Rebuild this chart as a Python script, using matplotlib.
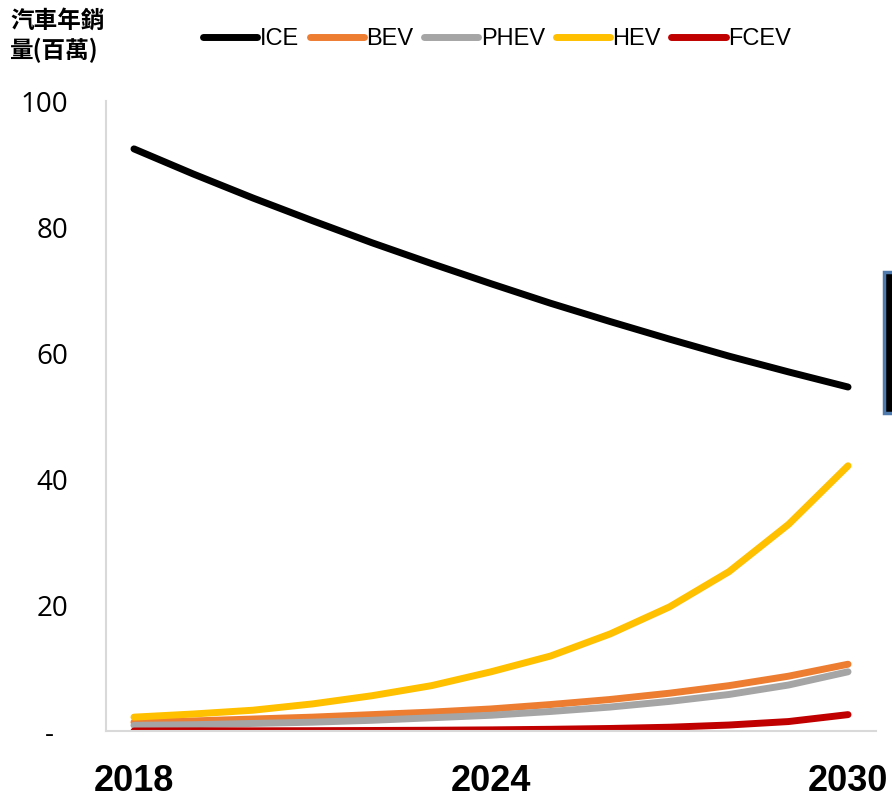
import matplotlib
matplotlib.use("Agg")
import matplotlib.pyplot as plt
from matplotlib.patches import Rectangle

years = list(range(2018, 2031))
ice = [92.4, 88.4, 84.6, 81.0, 77.5, 74.2, 71.0, 67.9, 65.0, 62.2, 59.5, 57.0, 54.6]
bev = [1.4, 1.6, 1.9, 2.2, 2.6, 3.0, 3.5, 4.2, 5.0, 6.0, 7.2, 8.7, 10.6]
phev = [0.9, 1.0, 1.2, 1.4, 1.7, 2.1, 2.5, 3.1, 3.8, 4.7, 5.8, 7.3, 9.4]
hev = [2.2, 2.7, 3.3, 4.3, 5.6, 7.2, 9.4, 11.9, 15.4, 19.7, 25.3, 32.8, 42.1]
fcev = [0.0, 0.02, 0.03, 0.05, 0.08, 0.12, 0.18, 0.27, 0.4, 0.6, 0.95, 1.5, 2.6]

series_names = ["ICE", "BEV", "PHEV", "HEV", "FCEV"]
series_colors = ["#000000", "#ED7D31", "#A5A5A5", "#FFC000", "#C00000"]
x_ticks = [2018, 2024, 2030]
y_ticks = [0, 20, 40, 60, 80, 100]
y_ticklabels = ["-  ", "20", "40", "60", "80", "100"]
title_text = "汽車年銷\n量(百萬)"

plt.rcParams['font.family'] = ['Liberation Sans', 'DejaVu Sans']

fig = plt.figure(figsize=(8.92, 8.01), dpi=100)
ax = fig.add_axes([106/892, 70/801, 770/892, 630/801])

for vals, name, col in zip([ice, bev, phev, hev, fcev], series_names, series_colors):
    ax.plot(years, vals, color=col, lw=5, solid_capstyle='round', label=name)

ax.set_xlim(2018 - 0.47, 2030 + 0.47)
ax.set_ylim(0, 100)
ax.set_xticks(x_ticks)
ax.set_xticklabels([str(v) for v in x_ticks], fontsize=26, fontweight='bold')
ax.set_yticks(y_ticks)
ax.set_yticklabels(y_ticklabels, fontsize=20, family=['Open Sans', 'DejaVu Sans'])
ax.tick_params(axis='both', length=0)
ax.tick_params(axis='y', pad=27)
ax.tick_params(axis='x', pad=24)
for s in ['top', 'right']:
    ax.spines[s].set_visible(False)
for s in ['left', 'bottom']:
    ax.spines[s].set_color('#d9d9d9')
    ax.spines[s].set_linewidth(1.5)

leg = fig.legend(loc='center', bbox_to_anchor=(497/892, 1 - 39/801), ncol=5, frameon=False,
                 fontsize=17, handlelength=2.3, handletextpad=0.1, columnspacing=0.45)

fig.text(10/892, 1 - 9/801, title_text, ha='left', va='top', fontsize=17,
         fontweight='bold', family=['Noto Sans CJK TC', 'DejaVu Sans'], linespacing=1.25)

fig.patches.append(Rectangle((884/892, (801-413)/801), 12/892, 141/801,
                             transform=fig.transFigure, facecolor='black',
                             edgecolor='#4F7AAE', lw=2.5, clip_on=False))

fig.savefig("out.png", dpi=100)
